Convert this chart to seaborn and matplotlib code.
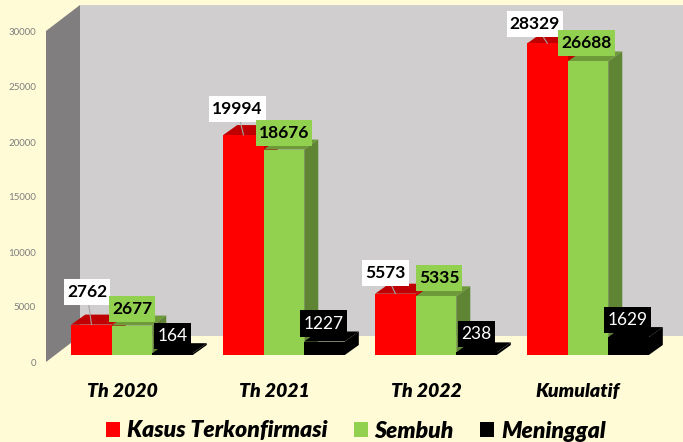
import matplotlib.pyplot as plt
import matplotlib.transforms as mtrans
import pandas as pd
import seaborn as sns
from matplotlib.patches import Polygon
from matplotlib.path import Path

categories = ["Th 2020", "Th 2021", "Th 2022", "Kumulatif"]
konfirmasi = [2762, 19994, 5573, 28329]
sembuh = [2677, 18676, 5335, 26688]
meninggal = [164, 1227, 238, 1629]
series_names = ["Kasus Terkonfirmasi", "Sembuh", "Meninggal"]
y_ticks = [0, 5000, 10000, 15000, 20000, 25000, 30000]

BG = "#FFFBD7"
WIDTH, HEIGHT = 683, 442
DPI = 100
COLORS = ["#FF0000", "#92D050", "#000000"]
TOP_COLORS = ["#C00000", "#6E9A3A", "#000000"]
SIDE_COLORS = ["#C00000", "#5F8433", "#000000"]
# label box offset from the top centre of each bar, in pixels
LABEL_NUDGE = [
    [(-4.5, 33), (-6, 26), (-10, 21), (-12.5, 19)],
    [(0, 17), (0, 17), (3, 18), (-1.5, 18)],
    [(0, 17), (-1, 18), (0, 18), (-1, 17)],
]
LABEL_BOX = ["#FFFFFF", "#92D050", "#000000"]
LABEL_TEXT = ["#000000", "#000000", "#FFFFFF"]


def px(value):
    return value * 72 / DPI


def label_box(x0, y0, width, height, mutation_size):
    # wider than tall padding, the round boxstyles only have one pad
    pad_x = px(4.5)
    pad_y = px(7)
    x1 = x0 + width + pad_x
    y1 = y0 + height + pad_y
    x0 -= pad_x
    y0 -= pad_y
    return Path([(x0, y0), (x1, y0), (x1, y1), (x0, y1), (x0, y0)], closed=True)


def draw_depth(ax, bars, top_color, side_color, z, dx, dy):
    for bar in bars:
        x0 = bar.get_x()
        x1 = x0 + bar.get_width()
        h = bar.get_height()
        ax.add_patch(Polygon([(x0, h), (x1, h), (x1 + dx, h + dy), (x0 + dx, h + dy)],
                             color=top_color, lw=0, zorder=z, clip_on=False))
        ax.add_patch(Polygon([(x1, 0), (x1 + dx, dy), (x1 + dx, h + dy), (x1, h)],
                             color=side_color, lw=0, zorder=z, clip_on=False))
        bar.set_zorder(z + 0.1)


df = pd.DataFrame({
    "kategori": categories * 3,
    "jumlah": konfirmasi + sembuh + meninggal,
    "seri": [name for name in series_names for _ in categories],
})

sns.set_theme(style="white")
plt.rcParams["font.family"] = ["Lato", "DejaVu Sans"]

fig = plt.figure(figsize=(WIDTH / DPI, HEIGHT / DPI), dpi=DPI, facecolor=BG)

# walls of the 3D box, laid out in picture pixels behind the chart
back = fig.add_axes([0, 0, 1, 1], zorder=0)
back.set_xlim(0, WIDTH)
back.set_ylim(HEIGHT, 0)
back.axis("off")
back.add_patch(Polygon([(80, 5), (WIDTH, 5), (WIDTH, 336), (80, 336)], color="#D0CECE", lw=0))
back.add_patch(Polygon([(46, 31), (80, 5), (80, 336), (46, 362)], color="#807E7E", lw=0))

ax = fig.add_axes([56 / WIDTH, 1 - 355 / HEIGHT, 608 / WIDTH, 330 / HEIGHT], zorder=1)
ax.patch.set_visible(False)
sns.barplot(data=df, x="kategori", y="jumlah", hue="seri", hue_order=series_names,
            palette=COLORS, saturation=1, width=0.8, gap=0, linewidth=0, ax=ax)
ax.set_xlim(-0.5, 3.5)
ax.set_ylim(0, 30000)
ax.set_xlabel("")
ax.set_ylabel("")
sns.despine(ax=ax, left=True, bottom=True)

depth_x = 14 / 152
depth_y = 10 / 0.011
for i, bars in enumerate(ax.containers):
    draw_depth(ax, bars, TOP_COLORS[i], SIDE_COLORS[i], 2 + i * 0.5, depth_x, depth_y)

ax.set_yticks(y_ticks)
ax.tick_params(axis="y", length=0, pad=px(20), labelsize=7, labelcolor="#7F7F7F")
ax.tick_params(axis="x", length=0, pad=px(28))
for label in ax.get_yticklabels():
    label.set_transform(label.get_transform()
                        + mtrans.ScaledTranslation(0, -7 / DPI, fig.dpi_scale_trans))
for label in ax.get_xticklabels():
    label.set_fontsize(14)
    label.set_fontweight("heavy")
    label.set_fontstyle("italic")
    label.set_color("black")
    label.set_transform(label.get_transform()
                        + mtrans.ScaledTranslation(-10 / DPI, 0, fig.dpi_scale_trans))

for i, bars in enumerate(ax.containers):
    for bar, nudge in zip(bars, LABEL_NUDGE[i]):
        arrow = None
        if i == 0:
            arrow = dict(arrowstyle="-", color="#A6A6A6", lw=0.8, shrinkA=0, shrinkB=0)
        ax.annotate(f"{int(bar.get_height())}",
                    xy=(bar.get_x() + bar.get_width() / 2, bar.get_height()),
                    xytext=(nudge[0], nudge[1]), textcoords="offset pixels",
                    ha="center", va="center", fontsize=12.5,
                    fontweight="bold" if i < 2 else "normal",
                    color=LABEL_TEXT[i], zorder=5 + i, annotation_clip=False,
                    bbox=dict(boxstyle=label_box, fc=LABEL_BOX[i], ec="none"),
                    arrowprops=arrow)

handles, labels = ax.get_legend_handles_labels()
legend = ax.legend(handles, labels, ncols=3, frameon=False, loc="center",
                   bbox_to_anchor=(356 / WIDTH, 1 - 431 / HEIGHT), bbox_transform=fig.transFigure,
                   handlelength=0.6, handleheight=0.6, handletextpad=0.3, columnspacing=1.15,
                   labelcolor="black",
                   prop=dict(family="Lato", size=16.5, weight="heavy", style="italic"))

fig.savefig("out.png", dpi=DPI, facecolor=BG)
